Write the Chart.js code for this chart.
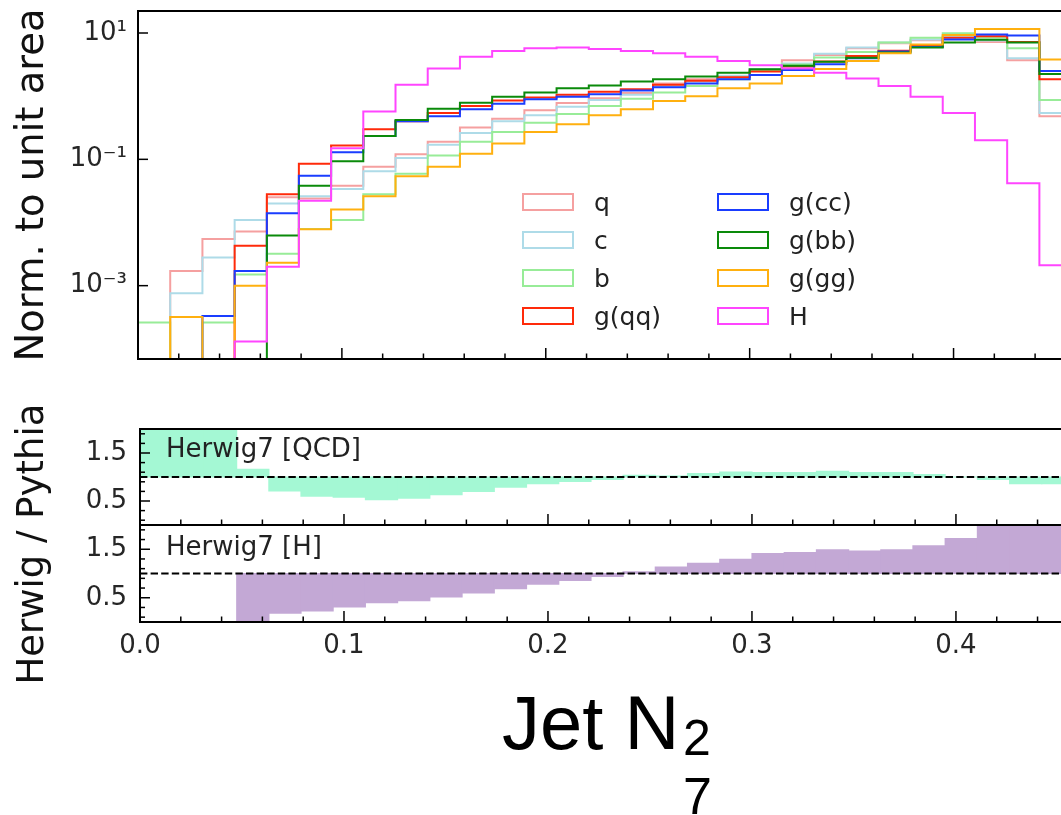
<!DOCTYPE html>
<html>
<head>
<meta charset="utf-8">
<script src="https://cdn.jsdelivr.net/npm/chart.js@4.4.1/dist/chart.umd.min.js"></script>
<style>
  html, body { margin: 0; padding: 0; background: #fff; }
  body { width: 1061px; height: 815px; overflow: hidden; position: relative; font-family: 'DejaVu Sans', sans-serif; color: #222; }
  canvas { position: absolute; left: 0; }
  #cTop { top: 0; }
  #cQcd { top: 419px; }
  #cHig { top: 515px; }
  .ytitle { position: absolute; line-height: 1; color: #111; white-space: nowrap; transform: translate(-50%, -50%) rotate(-90deg); }
  .note { position: absolute; font-size: 26px; line-height: 1; color: #222; white-space: nowrap; }
  .xlab { position: absolute; font-family: 'Liberation Sans', Arial, sans-serif; line-height: 1; color: #000; white-space: nowrap; }
  #legend { position: absolute; left: 522px; top: 193px; }
  .leg-item { position: absolute; display: flex; align-items: center; height: 18px; font-size: 25px; color: #222; white-space: nowrap; }
  .leg-box { display: inline-block; box-sizing: border-box; width: 52px; height: 18px; border: 2px solid; margin-right: 20px; background: #fff; }
</style>
</head>
<body>
<canvas id="cTop" width="1061" height="370"></canvas>
<canvas id="cQcd" width="1061" height="116"></canvas>
<canvas id="cHig" width="1061" height="150"></canvas>

<div class="ytitle" style="left:30px; top:185px; font-size:38.5px;">Norm. to unit area</div>
<div class="ytitle" style="left:30px; top:544px; font-size:37px;">Herwig / Pythia</div>
<div class="note" style="left:166px; top:435px;">Herwig7 [QCD]</div>
<div class="note" style="left:166px; top:533px;">Herwig7 [H]</div>
<div class="xlab" style="left:502px; top:685px; font-size:76px;">Jet N</div>
<div class="xlab" style="left:683px; top:713px; font-size:50px;">2</div>
<div class="xlab" style="left:683px; top:770px; font-size:52px;">7</div>
<div id="legend"></div>

<script>
// Bin edges of the N2 histogram (30 edges -> 29 visible bins)
const binEdges = [0, 0.0158, 0.0316, 0.0474, 0.0632, 0.0789, 0.0947, 0.1105, 0.1263, 0.1421,
                  0.1579, 0.1737, 0.1895, 0.2053, 0.2211, 0.2368, 0.2526, 0.2684, 0.2842, 0.3000,
                  0.3158, 0.3316, 0.3474, 0.3632, 0.3789, 0.3947, 0.4105, 0.4263, 0.4421, 0.4579];

const seriesLabels = ['q', 'c', 'b', 'g(qq)', 'g(cc)', 'g(bb)', 'g(gg)', 'H'];
const seriesColors = ['#f5a0a0', '#aedbe8', '#98ec98', '#ff2a0a', '#1a3dff', '#0a8a0a', '#ffb00f', '#ff45ff'];

// normalised bin contents (0 = empty bin)
const qVals   = [0, 1.7e-3, 5.5e-3, 7.2e-3, 0.025, 0.024, 0.038, 0.076, 0.12, 0.19, 0.32, 0.44, 0.60, 0.78, 0.93,
                 1.12, 1.58, 1.86, 2.0, 2.63, 3.7, 4.5, 5.75, 6.9, 7.7, 8.7, 7.2, 3.7, 0.48];
const cVals   = [0, 7.6e-4, 2.8e-3, 0.011, 0.020, 0.026, 0.034, 0.065, 0.105, 0.17, 0.26, 0.40, 0.50, 0.68, 0.87,
                 1.05, 1.45, 1.70, 2.1, 2.7, 3.3, 4.7, 5.9, 7.1, 7.9, 8.9, 7.6, 4.0, 0.54];
const bVals   = [2.6e-4, 0, 2.6e-4, 1.5e-3, 3.2e-3, 7.9e-3, 0.011, 0.028, 0.059, 0.115, 0.19, 0.27, 0.38, 0.52, 0.70,
                 0.91, 1.14, 1.45, 1.86, 2.57, 3.16, 4.1, 5.0, 7.1, 8.4, 9.9, 8.5, 5.75, 0.87];
const gqqVals = [0, 0, 0, 4.3e-3, 0.028, 0.085, 0.166, 0.30, 0.40, 0.54, 0.70, 0.85, 0.95, 1.05, 1.17,
                 1.29, 1.51, 1.76, 2.0, 2.45, 2.95, 3.55, 4.33, 5.25, 6.2, 8.4, 8.9, 7.2, 1.86];
const gccVals = [0, 0, 3.3e-4, 1.7e-3, 0.014, 0.055, 0.13, 0.234, 0.40, 0.48, 0.62, 0.76, 0.89, 0.98, 1.07,
                 1.23, 1.38, 1.58, 1.86, 2.16, 2.6, 3.2, 4.0, 5.1, 6.0, 7.9, 9.5, 9.1, 2.51];
const gbbVals = [0, 0, 0, 0, 6.2e-3, 0.038, 0.093, 0.234, 0.42, 0.63, 0.79, 0.98, 1.14, 1.33, 1.47,
                 1.70, 1.86, 2.04, 2.34, 2.66, 3.02, 3.5, 4.07, 4.9, 5.9, 7.1, 7.8, 7.1, 2.24];
const gggVals = [0, 3.2e-4, 0, 1.0e-3, 2.3e-3, 7.8e-3, 0.016, 0.026, 0.054, 0.076, 0.123, 0.178, 0.27, 0.36, 0.50,
                 0.62, 0.84, 1.0, 1.33, 1.58, 2.09, 2.69, 3.6, 4.79, 6.6, 9.3, 11.6, 11.6, 3.8];
const hVals   = [0, 0, 0, 1.3e-4, 2.0e-3, 0.022, 0.15, 0.57, 1.51, 2.75, 4.2, 5.2, 5.75, 5.9, 5.6,
                 5.2, 4.8, 4.2, 3.6, 3.1, 2.75, 2.34, 1.91, 1.45, 0.98, 0.54, 0.20, 0.042, 2.1e-3];
const seriesValues = [qVals, cVals, bVals, gqqVals, gccVals, gbbVals, gggVals, hVals];

// Herwig / Pythia ratios (values above 2 run off the panel, null = no entry)
const qcdRatio   = [2.3, 2.3, 2.3, 1.16, 0.71, 0.60, 0.58, 0.53, 0.56, 0.63, 0.70, 0.79, 0.86, 0.91, 0.95,
                    1.035, 1.02, 1.07, 1.10, 1.09, 1.09, 1.12, 1.09, 1.09, 1.05, 1.0, 0.95, 0.86, 0.86];
const higgsRatio = [null, null, null, 0.0, 0.18, 0.23, 0.31, 0.40, 0.44, 0.52, 0.60, 0.69, 0.78, 0.86, 0.94,
                    1.035, 1.13, 1.21, 1.29, 1.41, 1.43, 1.49, 1.46, 1.49, 1.57, 1.72, 2.4, 2.4, 2.4];
const ratioReference = 1.0;

// ticks
const xTickValues = [0, 0.1, 0.2, 0.3, 0.4];
const xTickLabels = ['0.0', '0.1', '0.2', '0.3', '0.4'];
const logTickValues = [10, 0.1, 0.001];
const logTickLabels = ['10¹', '10⁻¹', '10⁻³'];
const ratioTickValues = [0.5, 1.5];
const ratioTickLabels = ['0.5', '1.5'];

Chart.defaults.font.family = "'DejaVu Sans', sans-serif";
Chart.defaults.color = '#222';

const logFloor = 1e-7; // empty bins drop below the axis

// draw the matplotlib-like frame, inward ticks and the dashed reference line
const panelFrame = {
    id: 'panelFrame',
    afterDatasetsDraw(chart, args, opts) {
        const { ctx, chartArea: a, scales } = chart;
        const xs = scales.x, ys = scales.y;
        ctx.save();
        ctx.strokeStyle = '#000';
        const seg = (x1, y1, x2, y2) => { ctx.beginPath(); ctx.moveTo(x1, y1); ctx.lineTo(x2, y2); ctx.stroke(); };

        if (opts.refLine !== undefined) {
            ctx.lineWidth = 2;
            ctx.setLineDash([7.4, 3.2]);
            const py = ys.getPixelForValue(opts.refLine);
            seg(a.left, py, a.right, py);
            ctx.setLineDash([]);
        }

        ctx.lineWidth = 1.5;
        xTickValues.forEach(v => { const px = xs.getPixelForValue(v); seg(px, a.bottom, px, a.bottom - 11); });
        for (let k = 1; k * 0.02 < xs.max; k++) {
            if (k % 5 === 0) continue;
            const px = xs.getPixelForValue(k * 0.02);
            seg(px, a.bottom, px, a.bottom - 5.5);
        }
        (opts.yMajor || []).forEach(v => { const py = ys.getPixelForValue(v); seg(a.left, py, a.left + 10, py); });
        (opts.yMinor || []).forEach(v => { const py = ys.getPixelForValue(v); seg(a.left, py, a.left + 5, py); });

        ctx.lineWidth = 2;
        seg(a.left, a.top, a.right + 2, a.top);
        seg(a.left, a.bottom, a.right + 2, a.bottom);
        seg(a.left, a.top - 1, a.left, a.bottom + 1);
        ctx.restore();
    }
};

// keep the label overhang from shrinking the plot area
function fixYAxis(width) {
    return s => { s.width = width; s.paddingTop = 0; s.paddingBottom = 0; };
}

// top panel: step histograms on a log scale
new Chart(document.getElementById('cTop'), {
    type: 'line',
    data: {
        datasets: seriesValues.map((vals, i) => ({
            label: seriesLabels[i],
            data: binEdges.map((x, k) => ({ x: x, y: Math.max(vals[Math.min(k, vals.length - 1)], logFloor) })),
            borderColor: seriesColors[i],
            borderWidth: 2,
            stepped: true,
            pointRadius: 0,
            fill: false,
            order: seriesLabels.length - i
        }))
    },
    options: {
        responsive: false,
        animation: false,
        layout: { padding: { top: 11, bottom: 11, left: 0, right: 0 } },
        plugins: {
            legend: { display: false },
            tooltip: { enabled: false },
            panelFrame: { yMajor: logTickValues, yMinor: [] }
        },
        scales: {
            x: {
                type: 'linear', min: 0, max: 0.4527,
                grid: { display: false, drawTicks: false },
                border: { display: false },
                ticks: { display: false },
                afterFit: s => { s.height = 0; s.paddingLeft = 0; s.paddingRight = 0; }
            },
            y: {
                type: 'logarithmic', min: 6.9e-5, max: 22.3,
                grid: { display: false, drawTicks: false },
                border: { display: false },
                afterBuildTicks: s => { s.ticks = logTickValues.map(v => ({ value: v })); },
                ticks: {
                    callback: v => logTickLabels[logTickValues.indexOf(v)],
                    padding: 11,
                    font: { size: 26 },
                    color: '#262626'
                },
                afterFit: fixYAxis(138)
            }
        }
    },
    plugins: [panelFrame]
});

// ratio panels: filled bins between 1 and the Herwig/Pythia ratio
function ratioChart(canvasId, ratios, color, showXLabels, axisHeight) {
    const points = [];
    ratios.forEach((r, k) => {
        if (r === null) return;
        points.push({ x: (binEdges[k] + binEdges[k + 1]) / 2, y: [ratioReference, r] });
    });
    return new Chart(document.getElementById(canvasId), {
        type: 'bar',
        data: {
            datasets: [{
                data: points,
                backgroundColor: color,
                borderWidth: 0,
                barPercentage: 1,
                categoryPercentage: 1,
                inflateAmount: 0.6
            }]
        },
        options: {
            responsive: false,
            animation: false,
            layout: { padding: { top: 10, bottom: showXLabels ? 0 : 10, left: 0, right: 0 } },
            plugins: {
                legend: { display: false },
                tooltip: { enabled: false },
                panelFrame: {
                    refLine: ratioReference,
                    yMajor: ratioTickValues,
                    yMinor: [0.1, 0.3, 0.7, 0.9, 1.1, 1.3, 1.7, 1.9]
                }
            },
            scales: {
                x: {
                    type: 'linear', min: 0, max: 0.4515, offset: false,
                    grid: { display: false, drawTicks: false, offset: false },
                    border: { display: false },
                    afterBuildTicks: s => { s.ticks = xTickValues.map(v => ({ value: v })); },
                    ticks: {
                        display: showXLabels,
                        callback: v => xTickLabels[xTickValues.indexOf(v)],
                        maxRotation: 0,
                        padding: 9,
                        font: { size: 26 },
                        color: '#262626'
                    },
                    afterFit: s => { s.height = axisHeight; s.paddingLeft = 0; s.paddingRight = 0; }
                },
                y: {
                    type: 'linear', min: 0, max: 2,
                    grid: { display: false, drawTicks: false },
                    border: { display: false },
                    afterBuildTicks: s => { s.ticks = ratioTickValues.map(v => ({ value: v })); },
                    ticks: {
                        callback: v => ratioTickLabels[ratioTickValues.indexOf(v)],
                        padding: 13,
                        font: { size: 26 },
                        color: '#262626'
                    },
                    afterFit: fixYAxis(140)
                }
            }
        },
        plugins: [panelFrame]
    });
}

ratioChart('cQcd', qcdRatio, '#a4f8d4', false, 0);
ratioChart('cHig', higgsRatio, '#c3a8d5', true, 43);

// legend inside the top panel, two columns
const legendBox = document.getElementById('legend');
seriesLabels.forEach((name, i) => {
    const item = document.createElement('div');
    item.className = 'leg-item';
    item.style.left = (i < 4 ? 0 : 195) + 'px';
    item.style.top = ((i % 4) * 38.1) + 'px';
    const box = document.createElement('span');
    box.className = 'leg-box';
    box.style.borderColor = seriesColors[i];
    const txt = document.createElement('span');
    txt.textContent = name;
    item.appendChild(box);
    item.appendChild(txt);
    legendBox.appendChild(item);
});
</script>
</body>
</html>
